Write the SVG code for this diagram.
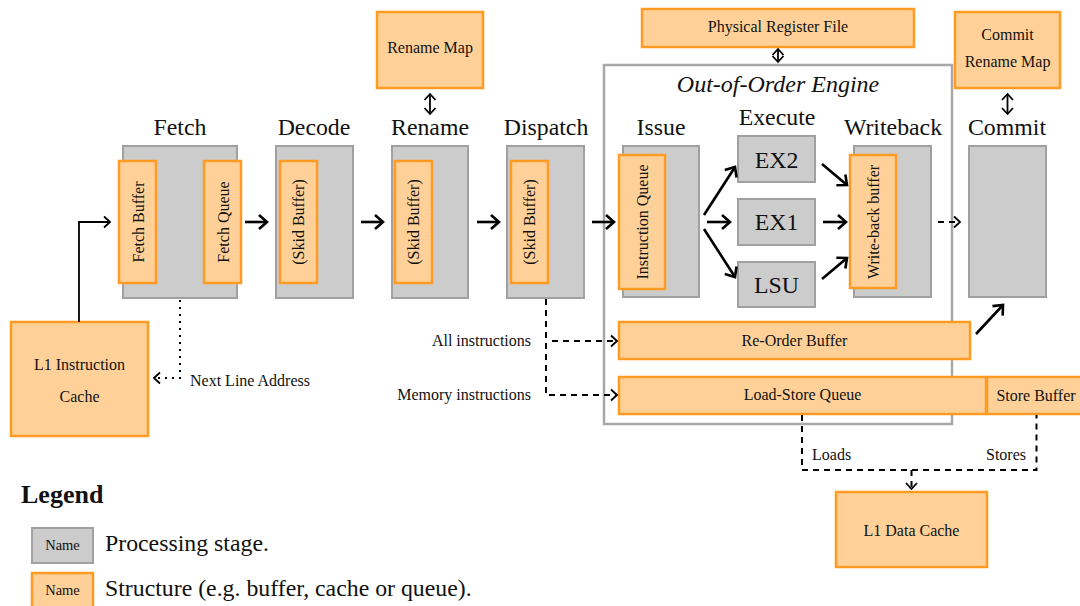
<svg xmlns="http://www.w3.org/2000/svg" width="1080" height="606" viewBox="0 0 1080 606" font-family="'Liberation Serif', 'Times New Roman', serif">
  <style>
    text { font-family: 'Liberation Serif', 'Times New Roman', serif; fill: #111; }
    .stage { fill: #cccccc; stroke: #a0a0a0; stroke-width: 2; }
    .struct { fill: #ffd199; stroke: #ff9a22; stroke-width: 2.5; }
    .engine { fill: none; stroke: #a8a8a8; stroke-width: 2.5; }
    .big { font-size: 23.8px; text-anchor: middle; }
    .small { font-size: 16px; text-anchor: middle; }
    .lbl { font-size: 16px; }
    .thick { fill: none; stroke: #000; stroke-width: 2.6; marker-end: url(#headBig); }
    .thin { fill: none; stroke: #000; stroke-width: 1.8; }
    .dash { fill: none; stroke: #000; stroke-width: 2; stroke-dasharray: 6 5; }
    .dot { fill: none; stroke: #000; stroke-width: 2; stroke-dasharray: 2 5; }
  </style>
  <defs>
    <marker id="headBig" markerUnits="userSpaceOnUse" viewBox="-1 -9 12 18" markerWidth="12" markerHeight="18" refX="8" refY="0" orient="auto">
      <path d="M0,-7 L8,0 L0,7" fill="none" stroke="#000" stroke-width="2.6"/>
    </marker>
    <marker id="headSmall" markerUnits="userSpaceOnUse" viewBox="-1 -7 9 14" markerWidth="9" markerHeight="14" refX="6" refY="0" orient="auto-start-reverse">
      <path d="M0,-5.5 L6,0 L0,5.5" fill="none" stroke="#000" stroke-width="1.8"/>
    </marker>
  </defs>

  <!-- out-of-order engine frame -->
  <g id="engine">
    <rect class="engine" x="604" y="65" width="348" height="359"/>
    <text x="778" y="92" font-size="24" font-style="italic" text-anchor="middle">Out-of-Order Engine</text>
  </g>

  <!-- pipeline stages -->
  <g id="fetch">
    <text class="big" x="180" y="135">Fetch</text>
    <rect class="stage" x="123" y="146" width="114" height="152"/>
    <rect class="struct" x="119" y="161" width="37" height="122"/>
    <text class="small" transform="translate(143.5,222) rotate(-90)">Fetch Buffer</text>
    <rect class="struct" x="204" y="161" width="37" height="122"/>
    <text class="small" transform="translate(228.5,222) rotate(-90)">Fetch Queue</text>
  </g>
  <g id="decode">
    <text class="big" x="314" y="135">Decode</text>
    <rect class="stage" x="276" y="146" width="77" height="152"/>
    <rect class="struct" x="280" y="161" width="37" height="122"/>
    <text class="small" transform="translate(304,222) rotate(-90)">(Skid Buffer)</text>
  </g>
  <g id="rename">
    <text class="big" x="430" y="135">Rename</text>
    <rect class="stage" x="392" y="146" width="76" height="152"/>
    <rect class="struct" x="395" y="161" width="37" height="122"/>
    <text class="small" transform="translate(419,222) rotate(-90)">(Skid Buffer)</text>
  </g>
  <g id="dispatch">
    <text class="big" x="546" y="135">Dispatch</text>
    <rect class="stage" x="507" y="146" width="77" height="152"/>
    <rect class="struct" x="511" y="161" width="37" height="122"/>
    <text class="small" transform="translate(535,222) rotate(-90)">(Skid Buffer)</text>
  </g>
  <g id="issue">
    <text class="big" x="661" y="135">Issue</text>
    <rect class="stage" x="623" y="146" width="76" height="151"/>
    <rect class="struct" x="619" y="155" width="46" height="134"/>
    <text class="small" transform="translate(647.5,222) rotate(-90)">Instruction Queue</text>
  </g>
  <g id="execute">
    <text class="big" x="777" y="125">Execute</text>
  </g>
  <g id="ex2">
    <rect class="stage" x="738" y="136" width="77" height="46"/>
    <text class="big" x="776.5" y="168">EX2</text>
  </g>
  <g id="ex1">
    <rect class="stage" x="738" y="199" width="77" height="46"/>
    <text class="big" x="776.5" y="230">EX1</text>
  </g>
  <g id="lsu">
    <rect class="stage" x="738" y="262" width="77" height="45"/>
    <text class="big" x="776.5" y="293">LSU</text>
  </g>
  <g id="writeback">
    <text class="big" x="893" y="135">Writeback</text>
    <rect class="stage" x="854" y="146" width="77" height="151"/>
    <rect class="struct" x="850" y="155" width="46" height="133"/>
    <text class="small" transform="translate(878.5,222) rotate(-90)">Write-back buffer</text>
  </g>
  <g id="commit">
    <text class="big" x="1007" y="135">Commit</text>
    <rect class="stage" x="969" y="146" width="77" height="151"/>
  </g>

  <!-- shared structures -->
  <g id="rename-map">
    <rect class="struct" x="377" y="12" width="106" height="76"/>
    <text class="small" x="430" y="53">Rename Map</text>
  </g>
  <g id="prf">
    <rect class="struct" x="642" y="9" width="272" height="38"/>
    <text class="small" x="778" y="32">Physical Register File</text>
  </g>
  <g id="commit-rename-map">
    <rect class="struct" x="955" y="12" width="105" height="76"/>
    <text class="small" x="1007.5" y="40">Commit</text>
    <text class="small" x="1007.5" y="67">Rename Map</text>
  </g>
  <g id="rob">
    <rect class="struct" x="619" y="322" width="351" height="37"/>
    <text class="small" x="794.5" y="346">Re-Order Buffer</text>
  </g>
  <g id="lsq">
    <rect class="struct" x="619" y="377" width="367" height="37"/>
    <text class="small" x="802.5" y="400">Load-Store Queue</text>
  </g>
  <g id="store-buffer">
    <rect class="struct" x="987" y="377" width="98" height="37"/>
    <text class="small" x="1036" y="401">Store Buffer</text>
  </g>
  <g id="l1i">
    <rect class="struct" x="11" y="322" width="137" height="114"/>
    <text class="small" x="79.5" y="369.5">L1 Instruction</text>
    <text class="small" x="79.5" y="401.5">Cache</text>
  </g>
  <g id="l1d">
    <rect class="struct" x="836" y="492" width="151" height="75"/>
    <text class="small" x="911.5" y="535.5">L1 Data Cache</text>
  </g>

  <!-- connectors -->
  <g id="connectors">
    <!-- stage to stage -->
    <path class="thick" d="M245,222 H267"/>
    <path class="thick" d="M361,222 H383"/>
    <path class="thick" d="M477,222 H499"/>
    <path class="thick" d="M592,222 H614"/>
    <!-- issue to execute units -->
    <path class="thick" d="M704,215 L735,167"/>
    <path class="thick" d="M707,222 H730"/>
    <path class="thick" d="M704,229 L735,277"/>
    <!-- execute units to writeback -->
    <path class="thick" d="M822,164 L847,185"/>
    <path class="thick" d="M823,222 H846"/>
    <path class="thick" d="M822,279 L847,258"/>
    <!-- re-order buffer to commit -->
    <path class="thick" d="M976,334 L1003,305"/>
    <!-- writeback to commit -->
    <path class="dash" d="M938,222 H960" stroke-dasharray="6 6" marker-end="url(#headSmall)"/>
    <!-- instruction cache to fetch buffer -->
    <path class="thin" d="M79,322 V222 H110" marker-end="url(#headSmall)"/>
    <!-- next line address -->
    <path class="dot" d="M180,300 V378 H154" marker-end="url(#headSmall)"/>
    <!-- maps and register file -->
    <path class="thin" d="M430,94 V114" marker-start="url(#headSmall)" marker-end="url(#headSmall)"/>
    <path class="thin" d="M778,49 V62" marker-start="url(#headSmall)" marker-end="url(#headSmall)"/>
    <path class="thin" d="M1007.5,94 V114" marker-start="url(#headSmall)" marker-end="url(#headSmall)"/>
    <!-- dispatch to rob / lsq -->
    <path class="dash" d="M546,299 V395 H617" marker-end="url(#headSmall)"/>
    <path class="dash" d="M552,341 H617" marker-end="url(#headSmall)"/>
    <!-- lsq / store buffer to data cache -->
    <path class="dash" d="M802,415 V470 H1036.5 V415"/>
    <path class="dash" d="M911.5,470 V489" stroke-dasharray="none" marker-end="url(#headSmall)"/>
  </g>

  <!-- connector labels -->
  <g id="labels">
    <text class="lbl" x="531" y="346" text-anchor="end">All instructions</text>
    <text class="lbl" x="531" y="400" text-anchor="end">Memory instructions</text>
    <text class="lbl" x="190" y="385.5">Next Line Address</text>
    <text class="lbl" x="812" y="459.5">Loads</text>
    <text class="lbl" x="1026" y="459.5" text-anchor="end">Stores</text>
  </g>

  <!-- legend -->
  <g id="legend">
    <text x="21" y="503" font-size="26" font-weight="bold">Legend</text>
    <rect class="stage" x="32" y="528" width="61" height="35"/>
    <text x="62.5" y="550" font-size="14.5" text-anchor="middle">Name</text>
    <text x="105" y="551" font-size="23.8">Processing stage.</text>
    <rect class="struct" x="32" y="573" width="61" height="38"/>
    <text x="62.5" y="595" font-size="14.5" text-anchor="middle">Name</text>
    <text x="105" y="596" font-size="23.8">Structure (e.g. buffer, cache or queue).</text>
  </g>
</svg>
